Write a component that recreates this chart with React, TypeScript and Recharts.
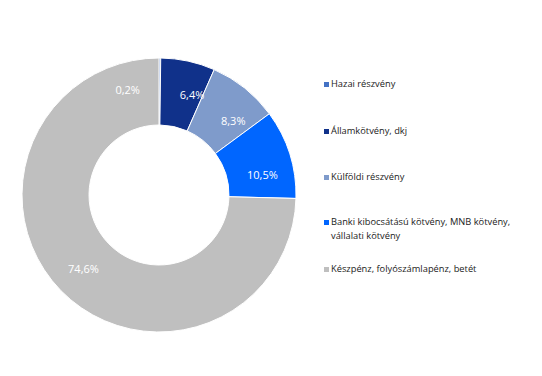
import { Legend, Pie, PieChart, Cell } from "recharts";

const categories = [
  "Hazai részvény",
  "Államkötvény, dkj",
  "Külföldi részvény",
  "Banki kibocsátású kötvény, MNB kötvény,\nvállalati kötvény",
  "Készpénz, folyószámlapénz, betét",
];

const values = [0.2, 6.4, 8.3, 10.5, 74.6];

const COLORS = ["#4472C4", "#10318A", "#7F9BCB", "#0066FF", "#BFBFBF"];

const data = categories.map((name, i) => ({ name, value: values[i] }));

const RAD = Math.PI / 180;

function renderLabel(props: any) {
  const { cx, cy, midAngle, innerRadius, outerRadius, value } = props;
  const r = (innerRadius + outerRadius) / 2 + 2;
  // small slices: label sits a little clockwise of the slice middle, like the original
  const angle = value < 1 ? midAngle : value < 20 ? midAngle - 6 : midAngle;
  let x = cx + r * Math.cos(-angle * RAD);
  const y = cy + r * Math.sin(-angle * RAD);
  // tiny slice: label pushed left of the top so it fits
  if (value < 1) x -= 32;
  return (
    <text
      x={x}
      y={y}
      fill="#ffffff"
      fontSize={11}
      fontFamily="'Open Sans', sans-serif"
      textAnchor="middle"
      dominantBaseline="central"
    >
      {value.toFixed(1).replace(".", ",")}%
    </text>
  );
}

function LegendContent() {
  const tops = [0, 47, 93, 138, 185];
  return (
    <div style={{ position: "relative", width: 210, height: 200, fontFamily: "'Open Sans', sans-serif", fontSize: 9.3, color: "#1a1a1a" }}>
      {categories.map((c, i) => (
        <div key={c} style={{ position: "absolute", left: 0, top: tops[i], display: "flex", alignItems: "flex-start", lineHeight: "14px" }}>
          <span style={{ display: "inline-block", width: 5, height: 5, background: COLORS[i], marginTop: 5, marginRight: 2, flexShrink: 0 }} />
          <span style={{ whiteSpace: "pre", width: 200 }}>{c}</span>
        </div>
      ))}
    </div>
  );
}

export default function App() {
  return (
    <div style={{ position: "absolute", left: 0, top: 0, width: 542, height: 376, background: "#fff" }}>
      <PieChart width={542} height={376} margin={{ top: 0, right: 0, bottom: 0, left: 0 }}>
        <Pie
          data={data}
          dataKey="value"
          nameKey="name"
          cx={159}
          cy={195}
          innerRadius={70}
          outerRadius={137}
          startAngle={90}
          endAngle={-270}
          stroke="#ffffff"
          strokeWidth={1}
          label={renderLabel}
          labelLine={false}
          isAnimationActive={false}
        >
          {data.map((d, i) => (
            <Cell key={d.name} fill={COLORS[i]} />
          ))}
        </Pie>
        <Legend
          content={<LegendContent />}
          wrapperStyle={{ position: "absolute", left: 324, top: 77, width: 210 }}
        />
      </PieChart>
    </div>
  );
}
